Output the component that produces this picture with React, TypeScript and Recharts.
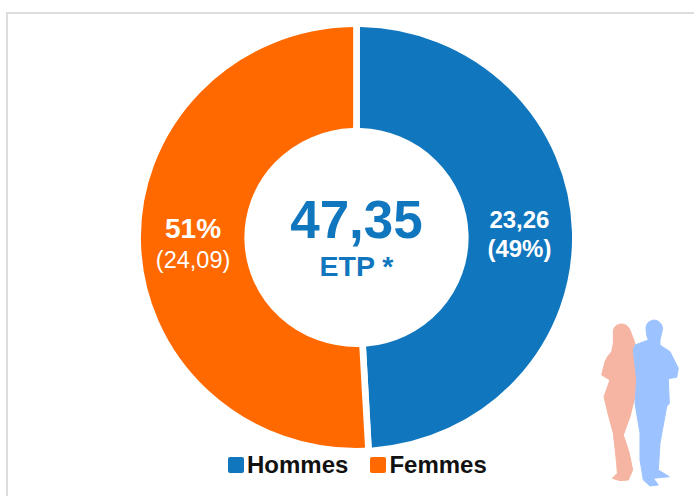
import { Legend, Pie, PieChart, Sector } from 'recharts';

const categories = ['Hommes', 'Femmes'];
const values = [23.26, 24.09];
const colors = ['#1076BE', '#FF6900'];
const sliceLabels = [
  ['23,26', '(49%)'],
  ['51%', '(24,09)'],
];
const totalLabel = '47,35';
const unitLabel = 'ETP *';

const FONT = '"Liberation Sans", Arial, sans-serif';
const CX = 356.5;
const CY = 237.5;
const STRETCH_X = 1.024; // the reference donut is a little wider than tall
const data = categories.map((name, i) => ({ name, value: values[i], fill: colors[i] }));

function StretchedSector(props: any) {
  return (
    <g transform={`translate(${CX},${CY}) scale(${STRETCH_X},1) translate(${-CX},${-CY})`}>
      <Sector {...props} />
    </g>
  );
}

function SliceLabel({ cx, cy, midAngle, index }: any) {
  const r = 165;
  const rad = (midAngle * Math.PI) / 180;
  const x = cx + r * Math.cos(rad);
  const y = cy - r * Math.sin(rad);
  if (index === 0) {
    return (
      <text x={x - 2} y={y} textAnchor="middle" fill="#fff" fontFamily={FONT} fontWeight={700} fontSize={24}>
        <tspan x={x - 2} y={y - 5}>{sliceLabels[0][0]}</tspan>
        <tspan x={x - 2} y={y + 24}>{sliceLabels[0][1]}</tspan>
      </text>
    );
  }
  return (
    <text x={x} y={y} textAnchor="middle" fill="#fff" fontFamily={FONT}>
      <tspan x={x + 1.5} y={y - 4} fontWeight={700} fontSize={28}>{sliceLabels[1][0]}</tspan>
      <tspan x={x + 1.5} y={y + 26} fontSize={23.5}>{sliceLabels[1][1]}</tspan>
    </text>
  );
}

function ChartLegend({ payload }: any) {
  return (
    <div style={{ display: 'flex', fontFamily: FONT, fontWeight: 700, fontSize: 24, color: '#111', lineHeight: '28px' }}>
      {(payload || []).map((item: any, i: number) => (
        <div key={item.value} style={{ display: 'flex', alignItems: 'center', marginLeft: i ? 22 : 0 }}>
          <span style={{ width: 16, height: 16, borderRadius: 2, background: item.color, marginRight: 3 }} />
          {item.value}
        </div>
      ))}
    </div>
  );
}

function Silhouettes() {
  return (
    <g transform="translate(580,300) scale(0.3333)" strokeWidth={3} strokeLinejoin="round">
      <path
        fill="#F6B5A3"
        stroke="#F6B5A3"
        d="M125 72 Q104 72 100 92 L100 130 L95 155 Q80 170 75 185 L65 225 L90 240 L72 290 L85 345 L100 400 L110 490 L112 520 L97 535 L120 542 L145 540 L158 510 L148 460 L130 405 L150 350 L165 290 L170 240 L160 140 L165 130 L150 90 Q142 72 125 72 Z"
      />
      <path
        fill="#9CC3FF"
        stroke="#9CC3FF"
        d="M222 60 Q198 64 198 85 L200 105 L205 120 L165 135 L160 150 L170 240 L165 310 L180 400 L180 480 L190 540 L210 558 L235 555 L220 535 L268 530 L235 510 L240 430 L260 320 L268 310 L265 236 L290 232 L295 205 L270 155 L240 135 L240 120 L248 85 Q244 62 222 60 Z"
      />
    </g>
  );
}

export default function App() {
  return (
    <div style={{ position: 'absolute', left: 0, top: 0, width: 694, height: 496, background: '#fff', overflow: 'hidden' }}>
      <div style={{ position: 'absolute', left: 6, top: 12, width: 700, height: 500, border: '2px solid #DDDDDD', boxSizing: 'border-box' }} />
      <PieChart width={694} height={496} margin={{ top: 0, right: 0, bottom: 0, left: 0 }} style={{ position: 'absolute', left: 0, top: 0 }}>
        <Pie
          data={data}
          dataKey="value"
          nameKey="name"
          cx={CX}
          cy={CY}
          innerRadius={106.25}
          outerRadius={213.75}
          startAngle={90}
          endAngle={-270}
          cornerRadius={4}
          stroke="#fff"
          strokeWidth={6.5}
          shape={StretchedSector}
          label={SliceLabel}
          labelLine={false}
          isAnimationActive={false}
        />
        <text x={CX} y={238} textAnchor="middle" fill={colors[0]} fontFamily={FONT} fontWeight={700} fontSize={53}>{totalLabel}</text>
        <text x={CX} y={276} textAnchor="middle" fill={colors[0]} fontFamily={FONT} fontWeight={700} fontSize={28.5}>{unitLabel}</text>
        <Silhouettes />
        <Legend content={ChartLegend} itemSorter={null} wrapperStyle={{ left: 228, top: 451, width: 'auto' }} />
      </PieChart>
    </div>
  );
}
